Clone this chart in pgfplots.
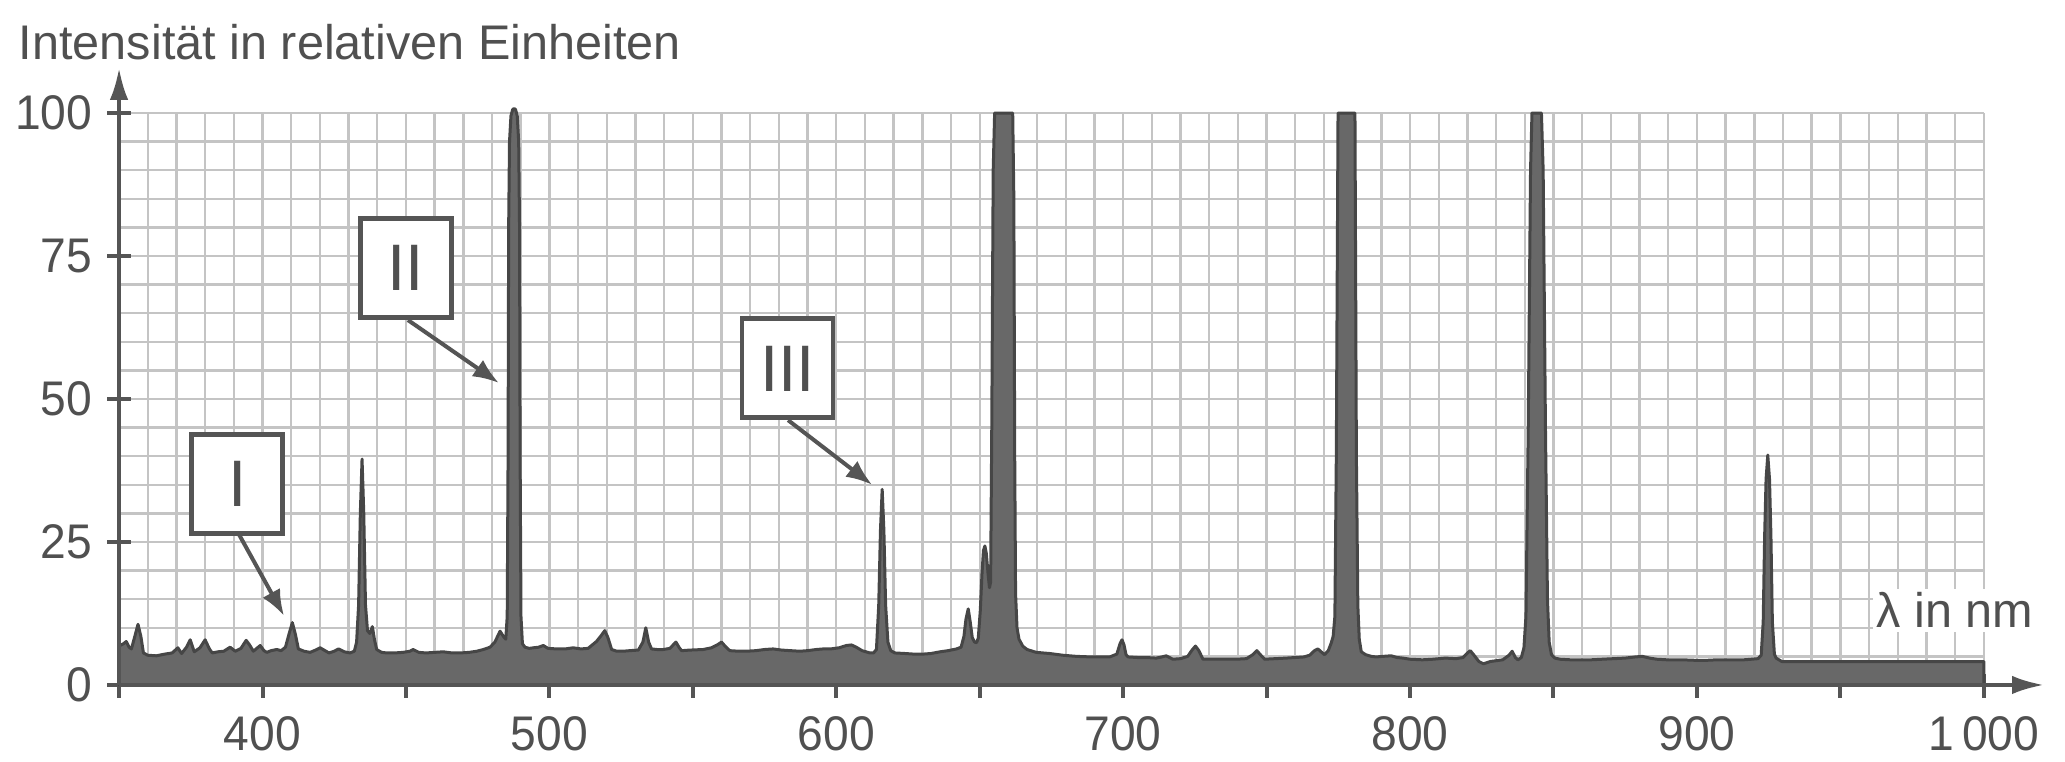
\documentclass[border=0pt]{standalone}
\usepackage{fontspec}
\setmainfont{Liberation Sans}
\newfontfamily\tickfont[FakeStretch=0.95]{Liberation Sans}
\usepackage{pgfplots}
\pgfplotsset{compat=1.18}
\usetikzlibrary{arrows.meta}
\definecolor{txt}{RGB}{80,80,80}
\definecolor{axisgray}{RGB}{85,85,85}
\definecolor{gridgray}{RGB}{196,196,196}
\definecolor{specfill}{RGB}{104,104,104}
\definecolor{specline}{RGB}{70,70,70}

\pgfplotstableread{
lambda I
350 6.8
351.5 7.2
352.5 7.6
353.5 6.6
354.3 6.3
355.5 8.5
356.6 10.6
357.6 8.5
358.5 5.6
360 5.2
363 5.1
366 5.4
368.5 5.6
370.5 6.5
371.8 5.5
373.5 6.6
374.8 7.9
376.2 5.8
378.2 6.5
380 7.9
381.5 6.3
382.5 5.6
384.5 5.8
386.5 5.9
388.7 6.6
390.5 5.9
392.5 6.4
394.3 7.8
395.5 7.0
396.8 5.9
398 6.4
399.2 6.9
400.5 6.0
401.5 5.7
403 6.0
405 6.2
406.5 6.0
408 6.6
409.3 9.0
410.4 10.9
411.5 8.8
412.5 6.3
414.5 5.9
416.6 5.7
418.5 6.1
420.1 6.5
421.8 6.0
423.2 5.6
425 5.9
426.5 6.3
428.5 5.8
430.5 5.6
432 5.9
432.8 7.5
433.5 14
434.1 30
434.7 39.5
435.3 30
435.9 14
436.6 9.5
437.4 9
438.3 10.2
439 8
439.8 6.2
441.5 5.7
443.3 5.6
446 5.6
449 5.7
451.4 5.9
452.5 6.2
454.5 5.7
457 5.6
460 5.7
463 5.8
466 5.6
469 5.6
472 5.7
474.7 5.9
477 6.2
479.3 6.6
481 7.5
482.8 9.4
484.1 8.4
484.8 8.0
485.3 12
485.6 40
485.8 80
486.1 95
486.6 99.5
487.2 100.6
487.7 100.8
488.2 100.6
488.8 99.5
489.3 95
489.6 80
489.8 40
490.1 12
490.6 7.2
491.5 6.6
493 6.4
494.4 6.5
496.2 6.6
497.9 6.9
499.5 6.4
502.5 6.3
505.5 6.3
508.3 6.5
511 6.3
513.5 6.4
516.4 7.6
518 8.6
519.3 9.5
520.4 8.3
521.7 6.2
523.5 5.9
525.7 5.9
528 6.0
531 6.1
532.6 7.5
533.6 10
534.6 7.5
535.6 6.3
537.5 6.2
539.7 6.2
542 6.4
544.1 7.5
545.3 6.5
546.1 6.0
549 6.1
553.6 6.2
556.5 6.5
558.5 7.0
560 7.5
561.4 6.7
562.9 6.0
566 5.9
568.7 5.9
572 6.0
575 6.2
578 6.3
581 6.1
584 6.0
587.3 5.9
590 6.0
593 6.2
595.4 6.3
598 6.3
601 6.5
603.5 6.9
605.3 7.0
607 6.6
609 6.0
611.7 5.6
613 5.6
614 6.2
614.8 14
615.4 27
616 34.2
616.6 27
617.2 14
618 7.5
619 6.0
620.4 5.6
624 5.5
627 5.4
630.3 5.4
633 5.5
636.2 5.8
639 6.0
641.9 6.3
643.5 6.6
644.5 8.5
645.2 11.5
646 13.3
646.7 11
647.4 8.3
648.2 7.5
648.9 7.4
649.5 8.2
650.2 13
650.8 19.5
651.3 23.5
651.8 24.3
652.3 23
652.9 19.5
653.4 17
653.8 18
654.2 45
654.7 90
655.2 100
661.5 100
661.9 85
662.2 40
662.5 16
663 10
663.7 8
665 6.8
666.5 6.2
669.7 5.7
674.4 5.5
679 5.2
683.7 5.0
689 4.9
695.3 4.9
697.8 5.4
698.9 7.2
699.6 7.9
700.3 7.0
701 5.3
701.7 4.9
705 4.8
708 4.8
711.5 4.7
713.5 4.9
715 5.1
716.2 4.8
717.3 4.5
720 4.6
722.5 5.0
724 6.1
725.2 6.8
726.4 6.0
727.8 4.5
731 4.5
735 4.5
739.4 4.5
743 4.6
745.2 5.3
746.6 6.0
748 5.2
749.3 4.5
753 4.6
756.8 4.7
760 4.8
763 4.9
765 5.2
766.7 6.0
767.9 6.3
769 5.8
770.2 5.3
771.5 6.0
772.5 7.3
773.2 8.5
773.8 12
774.3 40
774.9 100
780.8 100
781.3 40
781.8 14
782.3 8
783 5.8
784.5 5.3
786.5 5.0
788.2 4.9
790.5 5.0
793.4 5.1
795.5 4.8
797.5 4.7
800 4.5
804.3 4.4
808 4.5
812.3 4.7
816 4.6
818.5 4.8
820 5.6
821 6.0
822.3 5.2
824 4.1
825.6 3.7
828 4.1
832.3 4.4
834.5 5.2
835.6 5.9
836.7 4.8
837.6 4.4
838.8 4.8
839.7 6.5
840.4 12
841.2 45
842 90
842.5 100
845.8 100
846.4 90
847.2 45
847.9 15
848.5 7.5
849.3 5.3
850.5 4.7
852.3 4.5
856 4.4
860 4.4
863 4.4
867 4.5
871 4.6
875 4.7
878.5 4.9
881 5.0
883.5 4.7
886 4.5
889.6 4.4
895 4.4
900 4.3
903 4.3
907 4.4
911 4.4
916.3 4.4
919 4.5
921.3 4.6
922.4 5.2
923.1 11
923.6 26
924.1 36
924.7 40.2
925.3 36
925.8 26
926.3 11
927 5.4
927.6 4.7
929.6 4.1
940 4.1
1000 4.1
}\spectrum

\begin{document}
\begin{tikzpicture}
\begin{axis}[
  x=0.71725bp, y=1.43bp,
  xmin=350, xmax=1000, ymin=0, ymax=100,
  clip=false,
  axis line style={draw=none},
  tick pos=left,
  tick align=outside,
  major tick length=6bp,
  minor tick length=0pt,
  xtick={350,400,...,1000},
  xticklabels={,400,,500,,600,,700,,800,,900,,1\,000},
  ytick={0,25,50,75,100},
  yticklabels={0,25,50,75,100},
  minor x tick num=4,
  minor y tick num=4,
  grid=both,
  grid style={gridgray, line width=0.6bp},
  minor grid style={gridgray, line width=0.6bp},
  major tick style={axisgray, line width=1bp},
  xtick style={yshift=2.75bp},
  ytick style={xshift=3bp},
  tick label style={txt, font=\tickfont\fontsize{12.2}{12}\selectfont},
  xticklabel style={yshift=1.7bp},
  yticklabel style={xshift=2.8bp},
]
\addplot[fill=specfill, draw=specline, line width=0.75bp, line join=round] table[x=lambda, y=I] {\spectrum} \closedcycle;

\draw[axisgray, line width=1bp, -{Latex[length=8bp, width=4.6bp]}] (axis cs:350,0) -- (axis cs:1021,0);
\draw[axisgray, line width=1bp, -{Latex[length=8bp, width=4.6bp]}] (axis cs:350,0) -- (axis cs:350,107.9);

\node[anchor=base west, text=txt, font=\fontsize{12.2}{13}\selectfont, inner sep=0pt] at (axis cs:314.8,109.3) {Intensität in relativen Einheiten};
\node[anchor=base east, text=txt, font=\fontsize{12.2}{13}\selectfont, fill=white, inner sep=1bp] at (axis cs:1018.9,10) {λ in nm};

\tikzset{box/.style={draw=axisgray, line width=1.2bp, fill=white, minimum width=22.75bp, minimum height=24.75bp, inner sep=0pt, text=txt, font=\fontsize{16.5}{16.5}\selectfont},
         arr/.style={axisgray, line width=1bp, -{Latex[length=6.5bp, width=5bp]}}}
\node[box] at (axis cs:391.2,35.15) {I};
\node[box] at (axis cs:449.9,72.85) {II};
\node[box] at (axis cs:583,55.35) {III};
\draw[arr] (axis cs:391.5,26.6) -- (axis cs:407.5,12.1);
\draw[arr] (axis cs:450.7,63.8) -- (axis cs:482.4,52.8);
\draw[arr] (axis cs:583.2,46.3) -- (axis cs:612.5,35);

\coordinate (BL) at (axis cs:308.5,-13.46);
\coordinate (TR) at (axis cs:1028.3,119.76);
\end{axis}
\pgfresetboundingbox
\path (BL) rectangle (TR);
\end{tikzpicture}
\end{document}
